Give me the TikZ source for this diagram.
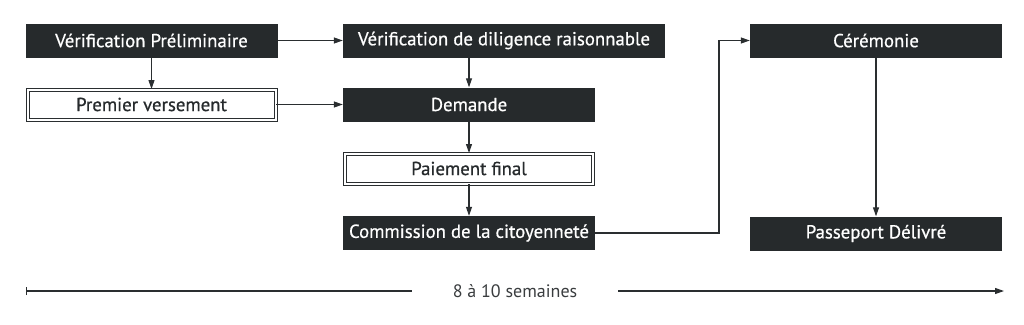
\documentclass[tikz,border=0pt]{standalone}
\usepackage{fontspec}
\setmainfont{PT Sans}
\newfontface\medfont{PT Sans}[FakeBold=0.6]
\usetikzlibrary{arrows.meta}
\definecolor{boxdark}{HTML}{262A2C}
\definecolor{linedark}{HTML}{2A2E30}
\definecolor{tgray}{HTML}{3A3D3F}
\begin{document}
\begin{tikzpicture}[x=1pt,y=-1pt,
  darkbox/.style={fill=boxdark,text=white,minimum width=252pt,minimum height=34pt,inner sep=0pt,font=\medfont\fontsize{18.8}{20}\selectfont},
  dblbox/.style={draw=linedark,line width=1pt,double=white,double distance=2pt,fill=white,text=boxdark,minimum width=248pt,minimum height=30pt,inner sep=0pt,font=\medfont\fontsize{18.8}{20}\selectfont},
  conn/.style={draw=linedark,line width=1.1pt,-{Triangle[length=9pt,width=6pt]}},
]
\useasboundingbox[fill=white] (0,0) rectangle (1024,324);
\node[darkbox] (vp) at (151.5,40.5) {Vérification Préliminaire};
\node[dblbox] (pv) at (151.5,104.5) {Premier versement};
\node[darkbox,minimum width=322pt] (vd) at (504,40.5) {Vérification de diligence raisonnable};
\node[darkbox] (dm) at (469,104.5) {Demande};
\node[dblbox] (pf) at (469,168.5) {Paiement final};
\node[darkbox] (cm) at (469,233) {Commission de la citoyenneté};
\node[darkbox] (ce) at (876,40.5) {Cérémonie};
\node[darkbox] (pp) at (876,233.5) {Passeport Délivré};

\draw[conn] (vp.east) -- (vd.west);
\draw[conn] (vp.south) -- (pv.north);
\draw[conn] (pv.east) -- (dm.west);
\draw[conn] (vd.south -| dm.north) -- (dm.north);
\draw[conn] (dm.south) -- (pf.north);
\draw[conn] (pf.south) -- (cm.north);
\coordinate (bend) at (719,233);
\draw[conn] (cm.east) -- (bend) |- (ce.west);
\draw[conn] (ce.south) -- (pp.north);

\coordinate (t0) at (26,291);
\coordinate (t1) at (1004,291);
\node[text=tgray,inner xsep=41pt,inner ysep=0pt,font=\fontsize{18}{20}\selectfont] (tx) at (515,291) {8 à 10 semaines};
\draw[draw=linedark,line width=1.1pt,{Bar[width=8pt]}-] (t0) -- (tx.west);
\draw[conn] (tx.east) -- (t1);
\end{tikzpicture}
\end{document}
